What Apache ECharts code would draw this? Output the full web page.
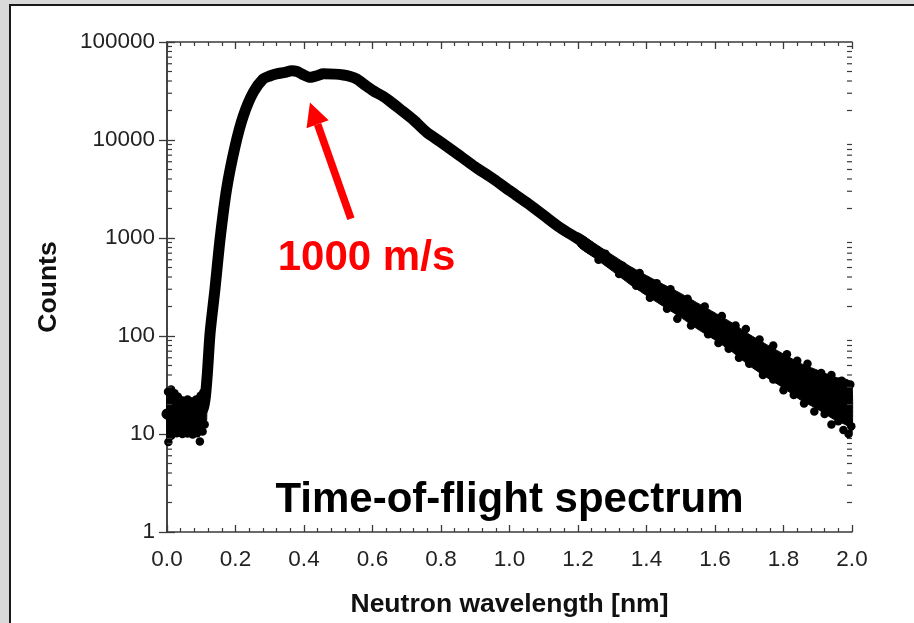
<!DOCTYPE html>
<html>
<head>
<meta charset="utf-8">
<script src="https://cdn.jsdelivr.net/npm/echarts@6/dist/echarts.min.js"></script>
<style>
  html, body { margin: 0; padding: 0; background: #d9d9d9; overflow: hidden; }
  #frame { position: absolute; left: 9px; top: 4px; width: 940px; height: 700px; background: #ffffff; border: 2px solid #1a1a1a; }
  #chart { position: absolute; left: 0; top: 0; width: 914px; height: 623px; }
</style>
</head>
<body>
<div id="frame"></div>
<div id="chart"></div>
<script>
// ---- Data ----
const xTickLabels = ['0.0','0.2','0.4','0.6','0.8','1.0','1.2','1.4','1.6','1.8','2.0'];
const yTickLabels = ['1','10','100','1000','10000','100000'];

// centre line of the spectrum: wavelength [nm] and counts
const wavelength = [0.00, 0.03, 0.06, 0.09, 0.105, 0.112, 0.118, 0.126, 0.14, 0.155, 0.174, 0.199, 0.223, 0.252, 0.281, 0.30, 0.32, 0.345, 0.364, 0.38, 0.393, 0.418, 0.44, 0.456, 0.49, 0.515, 0.535, 0.554, 0.58, 0.602, 0.63, 0.65, 0.68, 0.72, 0.758, 0.80, 0.855, 0.90, 0.953, 1.0, 1.05, 1.1, 1.147, 1.2, 1.25, 1.3, 1.35, 1.4, 1.45, 1.5, 1.55, 1.6, 1.65, 1.7, 1.75, 1.8, 1.85, 1.9, 1.95, 1.985];
const counts = [16, 15, 15, 16, 18, 24, 42, 109, 300, 980, 3160, 8700, 17700, 30700, 42000, 45000, 47300, 49000, 51000, 50000, 47300, 43600, 45500, 47300, 47000, 46000, 44500, 42000, 36000, 31800, 28000, 25000, 20700, 16000, 12000, 9500, 6900, 5300, 4000, 3050, 2300, 1700, 1280, 980, 750, 570, 430, 335, 265, 210, 163, 130, 100, 75, 58, 46, 36, 30, 25, 23];

// spread of the noisy background region (short wavelengths)
const leftBandX     = [0.000, 0.010, 0.025, 0.038, 0.055, 0.077, 0.095, 0.106, 0.112, 0.116];
const leftBandUpper = [30, 29, 27, 24.5, 23, 22.8, 25, 27, 34, 46];
const leftBandLower = [9.0, 9.5, 10, 9.6, 9.8, 9.6, 9.8, 10.5, 12.5, 14];

// spread of the noisy long-wavelength tail
const rightBandX     = [1.20, 1.25, 1.30, 1.35, 1.40, 1.45, 1.50, 1.55, 1.60, 1.65, 1.70, 1.75, 1.80, 1.85, 1.90, 1.95, 1.985, 2.00];
const rightBandUpper = [1128, 874, 672, 519, 414, 335, 272, 216, 172, 136, 104, 82, 65.5, 52.5, 44.7, 38, 36, 33];
const rightBandLower = [831, 621, 462, 340, 259, 200, 155, 117, 91, 69, 50, 38, 29.5, 22.2, 17.9, 13.9, 12.2, 10];

// individual scattered points on the edges of the noisy regions
const noiseX = [0.003, 0.012, 0.022, 0.032, 0.045, 0.06, 0.072, 0.085, 0.098, 0.106,
                0.004, 0.012, 0.028, 0.045, 0.06, 0.075, 0.088, 0.096, 0.104, 0.11,
                1.28, 1.33, 1.38, 1.43, 1.47, 1.52, 1.57, 1.62, 1.66, 1.69, 1.73, 1.77, 1.81, 1.84, 1.87, 1.91, 1.94, 1.97, 1.995,
                1.26, 1.32, 1.37, 1.41, 1.46, 1.49, 1.53, 1.58, 1.61, 1.64, 1.67, 1.70, 1.74, 1.77, 1.80, 1.83, 1.86, 1.89, 1.92, 1.94, 1.96, 1.975, 1.99, 1.998];
const noiseY = [27, 28.5, 26, 24, 22, 22.5, 21.5, 22.5, 24.5, 26.5,
                8.3, 9.6, 10.2, 10, 10.1, 9.9, 10.2, 8.4, 10.6, 12.5,
                690, 520, 440, 345, 300, 240, 200, 160, 128, 118, 92, 80, 65, 56, 52, 42, 40, 35, 32,
                600, 430, 325, 245, 190, 150, 128, 104, 85, 74, 60, 52, 40, 36, 28, 25, 20.5, 17, 16, 12.5, 13.5, 11, 10, 12];

// annotation arrow (data coordinates): tail and tip
const arrowTail = [0.537, 1570];
const arrowTip  = [0.4174, 24100];

// ---- Chart ----
const FONT = 'Arial, "Liberation Sans", Helvetica, sans-serif';
const AX = '#3a3a3a';
const chart = echarts.init(document.getElementById('chart'), null, { renderer: 'canvas' });

const minorY = [];
for (let d = 1; d < 100000; d *= 10) for (let k = 2; k <= 9; k++) minorY.push([0, d * k]);

const xCommon = {
  type: 'value', min: 0, max: 2, interval: 0.2,
  axisLine: { show: true, lineStyle: { color: AX, width: 1.5 } },
  axisTick: { show: true, inside: true, length: 7, lineStyle: { color: AX, width: 1.3 } },
  minorTick: { show: true, splitNumber: 5, length: 4, lineStyle: { color: AX, width: 1.2 } },
  splitLine: { show: false }, minorSplitLine: { show: false }
};
const yCommon = {
  type: 'log', logBase: 10, min: 1, max: 100000,
  axisLine: { show: true, lineStyle: { color: AX, width: 1.5 } },
  axisTick: { show: true, inside: true, length: 8, lineStyle: { color: AX, width: 1.3 } },
  minorTick: { show: false },
  splitLine: { show: false }
};

chart.setOption({
  animation: false,
  grid: { left: 167, right: 62, top: 42, bottom: 90, containLabel: false },
  xAxis: [
    Object.assign({}, xCommon, {
      position: 'bottom',
      axisLabel: { show: true, margin: 16, fontSize: 22.5, fontFamily: FONT, color: '#222',
        formatter: (v) => xTickLabels[Math.round(v / 0.2)] },
      name: 'Neutron wavelength [nm]', nameLocation: 'middle', nameGap: 59,
      nameTextStyle: { fontSize: 26.5, fontWeight: 'bold', fontFamily: FONT, color: '#111' }
    }),
    Object.assign({}, xCommon, { position: 'top', axisLabel: { show: false } })
  ],
  yAxis: [
    Object.assign({}, yCommon, {
      position: 'left',
      axisLabel: { show: true, margin: 12, fontSize: 22.5, fontFamily: FONT, color: '#222',
        formatter: (v) => yTickLabels[Math.round(Math.log10(v))] },
      name: 'Counts', nameLocation: 'middle', nameGap: 105,
      nameTextStyle: { fontSize: 26.5, fontWeight: 'bold', fontFamily: FONT, color: '#111' }
    }),
    Object.assign({}, yCommon, { position: 'right', axisLabel: { show: false } })
  ],
  series: [
    {
      type: 'custom', name: 'spread', xAxisIndex: 0, yAxisIndex: 0, silent: true, z: 3,
      data: [[0.05, 15], [1.6, 130]],
      renderItem: (params, api) => {
        const X = params.dataIndex === 0 ? leftBandX : rightBandX;
        const U = params.dataIndex === 0 ? leftBandUpper : rightBandUpper;
        const L = params.dataIndex === 0 ? leftBandLower : rightBandLower;
        const pts = [];
        for (let i = 0; i < X.length; i++) pts.push(api.coord([X[i], U[i]]));
        for (let i = X.length - 1; i >= 0; i--) pts.push(api.coord([X[i], L[i]]));
        return { type: 'polygon', shape: { points: pts, smooth: 0.2 }, style: { fill: '#000', stroke: '#000', lineWidth: 1 } };
      }
    },
    {
      type: 'line', name: 'Counts', xAxisIndex: 0, yAxisIndex: 0, silent: true, z: 4,
      data: wavelength.map((x, i) => [x, counts[i]]),
      showSymbol: false, smooth: 0.25,
      lineStyle: { color: '#000', width: 11, cap: 'round', join: 'round', opacity: 1 }
    },
    {
      type: 'scatter', name: 'noise', xAxisIndex: 0, yAxisIndex: 0, silent: true, z: 4,
      data: noiseX.map((x, i) => [x, noiseY[i]]),
      symbol: 'circle', symbolSize: 8.5, itemStyle: { color: '#000', opacity: 1 }
    },
    {
      type: 'custom', name: 'minorTicksY', xAxisIndex: 0, yAxisIndex: 0, silent: true, z: 5,
      data: minorY,
      renderItem: (params, api) => {
        const v = api.value(1);
        const p = api.coord([0, v]);
        const q = api.coord([2, v]);
        const st = { stroke: AX, lineWidth: 1.2 };
        return { type: 'group', children: [
          { type: 'line', shape: { x1: p[0], y1: p[1], x2: p[0] + 5, y2: p[1] }, style: st },
          { type: 'line', shape: { x1: q[0], y1: q[1], x2: q[0] - 5, y2: q[1] }, style: st }
        ] };
      }
    }
  ]
});

// annotations
const tip = chart.convertToPixel({ xAxisIndex: 0, yAxisIndex: 0 }, arrowTip);
const tail = chart.convertToPixel({ xAxisIndex: 0, yAxisIndex: 0 }, arrowTail);
const dx = tip[0] - tail[0], dy = tip[1] - tail[1];
const len = Math.sqrt(dx * dx + dy * dy);
const ux = dx / len, uy = dy / len, px = -uy, py = ux;
const headLen = 23, headHalf = 11.75, shaftHalf = 3.8;
const bx = tip[0] - ux * headLen, by = tip[1] - uy * headLen;

chart.setOption({
  graphic: [
    { type: 'polygon', z: 100, silent: true,
      shape: { points: [[tail[0] + px * shaftHalf, tail[1] + py * shaftHalf], [bx + px * shaftHalf, by + py * shaftHalf],
                        [bx - px * shaftHalf, by - py * shaftHalf], [tail[0] - px * shaftHalf, tail[1] - py * shaftHalf]] },
      style: { fill: '#ff0000' } },
    { type: 'polygon', z: 100, silent: true,
      shape: { points: [[tip[0], tip[1]], [bx + px * headHalf, by + py * headHalf], [bx - px * headHalf, by - py * headHalf]] },
      style: { fill: '#ff0000' } },
    { type: 'text', z: 100, silent: true, x: 366.5, y: 258,
      style: { text: '1000 m/s', fill: '#ff0000', font: 'bold 42px ' + FONT, textAlign: 'center', textVerticalAlign: 'middle' } },
    { type: 'text', z: 100, silent: true, x: 509.5, y: 500,
      style: { text: 'Time-of-flight spectrum', fill: '#000', font: 'bold 42px ' + FONT, textAlign: 'center', textVerticalAlign: 'middle' } }
  ]
});
</script>
</body>
</html>
